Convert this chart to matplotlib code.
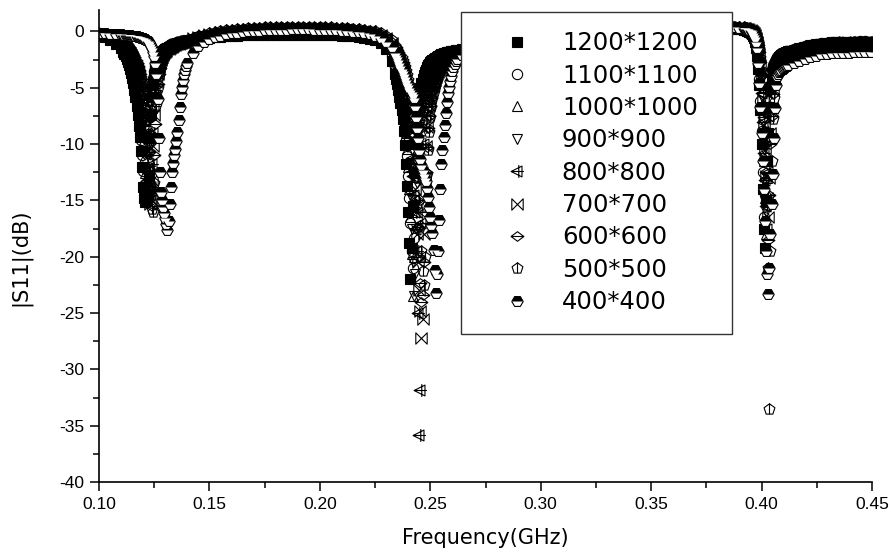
import numpy as np
import matplotlib
matplotlib.use("Agg")
import matplotlib.pyplot as plt
from matplotlib.path import Path
from matplotlib import font_manager as fm

plt.rcParams['axes.unicode_minus'] = False

# ---------------- data: sweep frequencies (GHz), in segments ----------------
FA = [0.100, 0.1025, 0.105, 0.1075, 0.110]
FB = list(np.round(np.arange(0.111, 0.14025, 0.0005), 4))      # dip 1 (59)
FC = list(np.round(np.arange(0.1425, 0.2326, 0.0025), 4))      # 37
FD = list(np.round(np.arange(0.234, 0.26225, 0.0005), 4))      # dip 2 (57)
FE = [0.2645, 0.267] + list(np.round(np.arange(0.270, 0.3851, 0.005), 4)) + [0.3875, 0.390]  # 28
FF = list(np.round(np.arange(0.392, 0.41225, 0.0005), 4))      # dip 3 (41)
FG = list(np.round(np.arange(0.4145, 0.4496, 0.0025), 4))      # 15
SEGS = [FA, FB, FC, FD, FE, FF, FG]
freq = np.array(FA + FB + FC + FD + FE + FF + FG)

labels = ["1200*1200", "1100*1100", "1000*1000", "900*900", "800*800",
          "700*700", "600*600", "500*500", "400*400"]

# ---------------- |S11| (dB) per patch size, one list per frequency segment ----------------
s1200 = [
    [-0.35, -0.5, -0.75, -1.1, -1.5],
    [-1.8, -2.0, -2.2, -2.45, -2.7, -3.0, -3.3, -3.7, -4.1, -4.6, -5.2, -5.85, -6.6, -7.45, -8.4, -9.4, -10.6, -12.0, -13.8, -14.8,
     -15.1, -15.0, -14.6, -12.8, -9.5, -7.4, -5.8, -4.8, -4.0, -3.45, -3.0, -2.65, -2.4, -2.2, -2.0, -1.85, -1.75, -1.68, -1.6, -1.52,
     -1.45, -1.4, -1.35, -1.3, -1.25, -1.2, -1.15, -1.12, -1.1, -1.08, -1.05, -1.02, -1.0, -0.98, -0.95, -0.92, -0.9, -0.88, -0.85],
    [-0.8, -0.72, -0.65, -0.58, -0.52, -0.47, -0.43, -0.4, -0.37, -0.35, -0.33, -0.32, -0.31, -0.3, -0.3, -0.3, -0.3, -0.3, -0.3, -0.3,
     -0.3, -0.3, -0.3, -0.3, -0.31, -0.32, -0.34, -0.37, -0.4, -0.44, -0.5, -0.57, -0.65, -0.75, -1.0, -1.55, -2.6],
    [-3.8, -4.25, -4.7, -5.2, -5.8, -6.4, -7.0, -7.8, -8.8, -10.1, -11.8, -13.7, -16.0, -18.8, -22.0, -19.2, -15.5, -12.5, -10.0, -8.4,
     -7.2, -6.3, -5.6, -5.05, -4.6, -4.22, -3.9, -3.63, -3.4, -3.18, -3.0, -2.87, -2.75, -2.65, -2.55, -2.47, -2.4, -2.32, -2.25, -2.2,
     -2.15, -2.1, -2.05, -2.0, -1.95, -1.92, -1.9, -1.87, -1.85, -1.82, -1.8, -1.77, -1.75, -1.72, -1.7, -1.67, -1.65],
    [-1.6, -1.5, -1.35, -1.15, -0.95, -0.8, -0.65, -0.5, -0.4, -0.3, -0.2, -0.12, -0.05, 0.0, 0.05, 0.08, 0.1, 0.12, 0.14, 0.15,
     0.17, 0.18, 0.19, 0.2, 0.2, 0.2, 0.2, 0.18],
    [0.15, 0.12, 0.1, 0.05, 0.0, -0.07, -0.15, -0.27, -0.4, -0.6, -0.9, -1.45, -2.2, -3.3, -4.8, -7.0, -10.0, -14.0, -17.5, -19.2,
     -15.0, -11.5, -9.0, -6.7, -5.0, -4.2, -3.6, -3.27, -3.0, -2.78, -2.6, -2.47, -2.35, -2.27, -2.2, -2.12, -2.05, -2.0, -1.95, -1.9,
     -1.85],
    [-1.7, -1.55, -1.4, -1.3, -1.2, -1.1, -1.05, -1.0, -0.95, -1.0, -1.0, -0.95, -0.9, -0.9, -0.95],
]

s1100 = [
    [-0.3, -0.45, -0.7, -1.0, -1.4],
    [-1.6, -1.75, -1.9, -2.1, -2.3, -2.55, -2.8, -3.1, -3.5, -3.9, -4.4, -5.0, -5.6, -6.4, -7.3, -8.4, -9.6, -11.0, -12.4, -13.6,
     -14.2, -13.5, -12.0, -9.8, -7.6, -6.1, -4.9, -4.1, -3.5, -3.05, -2.7, -2.42, -2.2, -2.04, -1.9, -1.77, -1.65, -1.57, -1.5, -1.45,
     -1.4, -1.35, -1.3, -1.25, -1.2, -1.15, -1.1, -1.07, -1.05, -1.02, -1.0, -0.97, -0.95, -0.92, -0.9, -0.87, -0.85, -0.82, -0.8],
    [-0.7, -0.58, -0.47, -0.37, -0.29, -0.21, -0.15, -0.1, -0.05, 0.0, 0.02, 0.05, 0.07, 0.1, 0.1, 0.12, 0.12, 0.13, 0.13, 0.13,
     0.13, 0.13, 0.12, 0.12, 0.1, 0.1, 0.08, 0.05, 0.02, -0.02, -0.08, -0.15, -0.25, -0.4, -0.7, -1.25, -2.2],
    [-3.2, -3.6, -4.0, -4.45, -4.9, -5.42, -6.0, -6.65, -7.4, -8.4, -9.6, -11.1, -12.8, -14.8, -17.0, -19.5, -21.0, -18.3, -15.0, -12.3,
     -10.0, -8.5, -7.3, -6.4, -5.7, -5.15, -4.7, -4.33, -4.0, -3.73, -3.5, -3.28, -3.1, -2.95, -2.8, -2.7, -2.6, -2.5, -2.4, -2.32,
     -2.25, -2.2, -2.15, -2.1, -2.05, -2.0, -1.95, -1.92, -1.9, -1.87, -1.85, -1.82, -1.8, -1.77, -1.75, -1.72, -1.7],
    [-1.62, -1.5, -1.3, -1.1, -0.9, -0.72, -0.58, -0.45, -0.33, -0.23, -0.14, -0.06, 0.0, 0.05, 0.1, 0.13, 0.16, 0.18, 0.2, 0.22,
     0.23, 0.25, 0.26, 0.27, 0.27, 0.27, 0.26, 0.24],
    [0.2, 0.18, 0.15, 0.1, 0.05, -0.02, -0.1, -0.2, -0.3, -0.48, -0.75, -1.2, -1.9, -2.9, -4.2, -6.2, -8.8, -12.5, -16.5, -14.5,
     -9.5, -6.9, -5.2, -4.35, -3.7, -3.32, -3.0, -2.78, -2.6, -2.44, -2.3, -2.2, -2.1, -2.02, -1.95, -1.9, -1.85, -1.8, -1.75, -1.72,
     -1.7],
    [-1.6, -1.45, -1.32, -1.22, -1.12, -1.05, -1.0, -0.95, -0.92, -0.95, -0.95, -0.9, -0.88, -0.88, -0.9],
]

s1000 = [
    [-0.3, -0.4, -0.6, -0.9, -1.25],
    [-1.45, -1.57, -1.7, -1.85, -2.0, -2.2, -2.4, -2.63, -2.9, -3.22, -3.6, -4.03, -4.5, -5.1, -5.8, -6.6, -7.5, -8.6, -9.8, -11.2,
     -12.6, -13.8, -14.6, -13.6, -11.5, -8.9, -6.8, -5.4, -4.4, -3.75, -3.2, -2.82, -2.5, -2.28, -2.1, -1.94, -1.8, -1.7, -1.6, -1.52,
     -1.45, -1.4, -1.35, -1.3, -1.25, -1.2, -1.15, -1.12, -1.1, -1.05, -1.0, -0.97, -0.95, -0.92, -0.9, -0.87, -0.85, -0.82, -0.8],
    [-0.68, -0.55, -0.43, -0.32, -0.24, -0.16, -0.1, -0.05, 0.0, 0.05, 0.07, 0.1, 0.12, 0.15, 0.15, 0.17, 0.17, 0.18, 0.18, 0.18,
     0.18, 0.18, 0.17, 0.17, 0.15, 0.15, 0.13, 0.1, 0.07, 0.03, -0.03, -0.1, -0.2, -0.35, -0.62, -1.1, -2.0],
    [-3.0, -3.33, -3.7, -4.12, -4.6, -5.08, -5.6, -6.25, -7.0, -7.9, -9.0, -10.4, -12.0, -14.0, -16.5, -19.8, -23.5, -20.0, -16.0, -12.9,
     -10.5, -8.9, -7.6, -6.7, -5.9, -5.35, -4.9, -4.53, -4.2, -3.88, -3.6, -3.38, -3.2, -3.04, -2.9, -2.77, -2.65, -2.55, -2.45, -2.37,
     -2.3, -2.25, -2.2, -2.15, -2.1, -2.05, -2.0, -1.97, -1.95, -1.92, -1.9, -1.87, -1.85, -1.82, -1.8, -1.77, -1.75],
    [-1.65, -1.52, -1.32, -1.12, -0.92, -0.75, -0.6, -0.46, -0.34, -0.24, -0.15, -0.07, 0.0, 0.06, 0.11, 0.15, 0.18, 0.21, 0.23, 0.25,
     0.27, 0.28, 0.3, 0.31, 0.31, 0.31, 0.3, 0.28],
    [0.25, 0.22, 0.2, 0.15, 0.1, 0.05, 0.0, -0.1, -0.2, -0.35, -0.55, -0.85, -1.3, -2.0, -3.0, -4.5, -6.5, -8.8, -11.5, -14.8,
     -18.0, -13.0, -8.8, -6.6, -5.0, -4.2, -3.6, -3.22, -2.9, -2.68, -2.5, -2.36, -2.25, -2.15, -2.05, -1.97, -1.9, -1.85, -1.8, -1.75,
     -1.7],
    [-1.55, -1.4, -1.28, -1.18, -1.1, -1.02, -0.98, -0.92, -0.9, -0.92, -0.9, -0.86, -0.84, -0.86, -0.88],
]

s900 = [
    [-0.25, -0.4, -0.55, -0.85, -1.2],
    [-1.4, -1.52, -1.65, -1.8, -1.95, -2.15, -2.35, -2.6, -2.85, -3.15, -3.5, -3.93, -4.4, -4.95, -5.6, -6.35, -7.2, -8.3, -9.5, -10.9,
     -12.5, -14.0, -15.0, -14.3, -12.8, -9.9, -7.5, -5.9, -4.6, -3.85, -3.3, -2.92, -2.6, -2.33, -2.1, -1.94, -1.8, -1.7, -1.6, -1.52,
     -1.45, -1.4, -1.35, -1.3, -1.25, -1.2, -1.15, -1.12, -1.1, -1.05, -1.0, -0.97, -0.95, -0.92, -0.9, -0.87, -0.85, -0.82, -0.8],
    [-0.66, -0.52, -0.4, -0.28, -0.19, -0.11, -0.05, 0.0, 0.05, 0.1, 0.12, 0.15, 0.17, 0.2, 0.2, 0.22, 0.22, 0.23, 0.23, 0.23,
     0.23, 0.23, 0.22, 0.22, 0.2, 0.2, 0.18, 0.15, 0.12, 0.08, 0.03, -0.04, -0.13, -0.27, -0.5, -0.9, -1.65],
    [-2.5, -2.78, -3.1, -3.43, -3.8, -4.22, -4.7, -5.22, -5.8, -6.55, -7.4, -8.5, -9.8, -11.9, -14.5, -17.5, -20.5, -23.5, -21.5, -17.5,
     -13.5, -11.5, -9.6, -8.3, -7.2, -6.4, -5.7, -5.2, -4.8, -4.45, -4.1, -3.85, -3.6, -3.4, -3.2, -3.05, -2.9, -2.78, -2.67, -2.57,
     -2.48, -2.4, -2.32, -2.25, -2.2, -2.15, -2.1, -2.05, -2.0, -1.97, -1.95, -1.92, -1.9, -1.87, -1.85, -1.82, -1.8],
    [-1.7, -1.55, -1.35, -1.13, -0.93, -0.76, -0.6, -0.46, -0.34, -0.23, -0.13, -0.05, 0.02, 0.08, 0.13, 0.17, 0.21, 0.24, 0.26, 0.28,
     0.3, 0.32, 0.33, 0.34, 0.35, 0.35, 0.34, 0.32],
    [0.25, 0.22, 0.2, 0.18, 0.15, 0.1, 0.05, -0.05, -0.15, -0.3, -0.5, -0.8, -1.2, -1.85, -2.7, -4.0, -5.8, -8.0, -10.5, -13.5,
     -16.0, -13.0, -9.5, -7.1, -5.3, -4.4, -3.7, -3.32, -3.0, -2.76, -2.55, -2.42, -2.3, -2.2, -2.1, -2.02, -1.95, -1.9, -1.85, -1.8,
     -1.75],
    [-1.62, -1.48, -1.35, -1.25, -1.15, -1.08, -1.02, -0.98, -0.95, -0.97, -0.96, -0.92, -0.9, -0.9, -0.92],
]

s800 = [
    [-0.25, -0.35, -0.5, -0.75, -1.05],
    [-1.25, -1.35, -1.45, -1.57, -1.7, -1.85, -2.0, -2.2, -2.4, -2.63, -2.9, -3.2, -3.5, -3.92, -4.4, -4.95, -5.6, -6.4, -7.3, -8.4,
     -9.6, -10.9, -12.3, -13.7, -14.5, -13.8, -11.8, -9.0, -6.6, -5.2, -4.1, -3.5, -3.0, -2.68, -2.4, -2.18, -2.0, -1.87, -1.75, -1.65,
     -1.55, -1.47, -1.4, -1.35, -1.3, -1.25, -1.2, -1.15, -1.1, -1.07, -1.05, -1.02, -1.0, -0.97, -0.95, -0.92, -0.9, -0.87, -0.85],
    [-0.64, -0.5, -0.37, -0.25, -0.15, -0.07, 0.0, 0.05, 0.1, 0.15, 0.17, 0.2, 0.22, 0.25, 0.25, 0.27, 0.27, 0.28, 0.28, 0.28,
     0.28, 0.28, 0.27, 0.27, 0.25, 0.25, 0.23, 0.2, 0.17, 0.13, 0.08, 0.02, -0.06, -0.18, -0.38, -0.7, -1.3],
    [-2.0, -2.25, -2.5, -2.8, -3.1, -3.43, -3.8, -4.22, -4.7, -5.25, -5.9, -6.7, -7.6, -8.6, -9.8, -11.2, -12.8, -14.5, -16.0, -17.5,
     -19.5, -25.0, -35.8, -31.8, -17.0, -12.5, -10.0, -8.5, -7.4, -6.7, -6.1, -5.6, -5.2, -4.85, -4.5, -4.2, -3.95, -3.75, -3.55, -3.38,
     -3.22, -3.08, -2.95, -2.83, -2.72, -2.62, -2.53, -2.45, -2.38, -2.32, -2.26, -2.2, -2.15, -2.1, -2.05, -2.0, -1.95],
    [-1.8, -1.65, -1.45, -1.2, -0.98, -0.8, -0.64, -0.5, -0.37, -0.26, -0.16, -0.07, 0.0, 0.06, 0.12, 0.16, 0.2, 0.23, 0.26, 0.28,
     0.3, 0.32, 0.34, 0.35, 0.36, 0.36, 0.35, 0.33],
    [0.3, 0.28, 0.25, 0.2, 0.15, 0.1, 0.05, -0.02, -0.1, -0.25, -0.45, -0.7, -1.1, -1.7, -2.5, -3.7, -5.5, -8.0, -10.8, -13.2,
     -15.5, -17.5, -12.5, -7.5, -5.5, -4.5, -3.8, -3.38, -3.0, -2.78, -2.6, -2.47, -2.35, -2.25, -2.15, -2.07, -2.0, -1.95, -1.9, -1.85,
     -1.8],
    [-1.68, -1.52, -1.38, -1.28, -1.18, -1.1, -1.05, -1.0, -0.97, -1.0, -0.98, -0.94, -0.92, -0.92, -0.95],
]

s700 = [
    [-0.2, -0.3, -0.45, -0.7, -1.0],
    [-1.2, -1.3, -1.4, -1.52, -1.65, -1.8, -1.95, -2.12, -2.3, -2.55, -2.8, -3.08, -3.4, -3.78, -4.2, -4.72, -5.3, -6.05, -6.9, -7.95,
     -9.1, -10.5, -12.0, -13.8, -15.3, -14.9, -13.2, -10.2, -7.4, -5.7, -4.5, -3.8, -3.2, -2.83, -2.5, -2.28, -2.1, -1.94, -1.8, -1.7,
     -1.6, -1.52, -1.45, -1.4, -1.35, -1.3, -1.25, -1.2, -1.15, -1.12, -1.1, -1.05, -1.0, -0.97, -0.95, -0.92, -0.9, -0.87, -0.85],
    [-0.62, -0.48, -0.34, -0.22, -0.12, -0.03, 0.04, 0.1, 0.15, 0.2, 0.22, 0.25, 0.27, 0.3, 0.3, 0.32, 0.32, 0.33, 0.33, 0.33,
     0.33, 0.33, 0.32, 0.32, 0.3, 0.3, 0.28, 0.25, 0.22, 0.18, 0.13, 0.07, 0.0, -0.1, -0.28, -0.55, -1.05],
    [-1.7, -1.9, -2.1, -2.35, -2.6, -2.9, -3.2, -3.55, -3.9, -4.35, -4.8, -5.35, -6.0, -6.8, -7.7, -8.9, -10.2, -11.9, -14.0, -16.0,
     -18.0, -20.5, -23.0, -24.8, -27.2, -25.5, -18.0, -13.0, -10.2, -8.5, -7.4, -6.5, -5.9, -5.4, -4.95, -4.6, -4.3, -4.03, -3.8, -3.6,
     -3.42, -3.26, -3.12, -2.99, -2.87, -2.76, -2.66, -2.57, -2.49, -2.42, -2.35, -2.29, -2.23, -2.17, -2.12, -2.07, -2.02],
    [-1.85, -1.7, -1.5, -1.25, -1.02, -0.83, -0.66, -0.51, -0.38, -0.27, -0.17, -0.08, 0.0, 0.07, 0.13, 0.18, 0.22, 0.25, 0.28, 0.3,
     0.32, 0.34, 0.36, 0.37, 0.38, 0.38, 0.37, 0.35],
    [0.3, 0.28, 0.25, 0.22, 0.2, 0.15, 0.1, 0.03, -0.05, -0.17, -0.35, -0.58, -0.9, -1.4, -2.0, -3.0, -4.3, -6.1, -8.3, -10.5,
     -12.8, -14.8, -16.5, -13.0, -9.0, -6.8, -5.2, -4.35, -3.7, -3.32, -3.0, -2.78, -2.6, -2.47, -2.35, -2.27, -2.2, -2.12, -2.05, -2.0,
     -1.95],
    [-1.9, -1.85, -1.82, -1.8, -1.78, -1.76, -1.75, -1.75, -1.78, -1.75, -1.72, -1.7, -1.73, -1.7, -1.7],
]

s600 = [
    [-0.2, -0.3, -0.4, -0.6, -0.85],
    [-1.05, -1.12, -1.2, -1.3, -1.4, -1.52, -1.65, -1.8, -1.95, -2.12, -2.3, -2.53, -2.8, -3.08, -3.4, -3.78, -4.2, -4.72, -5.3, -6.05,
     -6.9, -7.95, -9.2, -10.7, -12.4, -14.2, -15.5, -14.0, -11.0, -8.2, -5.9, -4.7, -3.8, -3.25, -2.8, -2.48, -2.2, -2.04, -1.9, -1.77,
     -1.65, -1.57, -1.5, -1.42, -1.35, -1.3, -1.25, -1.2, -1.15, -1.12, -1.1, -1.05, -1.0, -0.97, -0.95, -0.92, -0.9, -0.87, -0.85],
    [-0.6, -0.46, -0.33, -0.21, -0.11, -0.03, 0.04, 0.1, 0.15, 0.19, 0.21, 0.24, 0.26, 0.28, 0.29, 0.3, 0.31, 0.31, 0.32, 0.32,
     0.32, 0.31, 0.31, 0.3, 0.29, 0.28, 0.26, 0.24, 0.21, 0.17, 0.12, 0.06, -0.01, -0.1, -0.26, -0.5, -0.95],
    [-1.6, -1.8, -2.0, -2.2, -2.4, -2.65, -2.9, -3.18, -3.5, -3.88, -4.3, -4.78, -5.3, -5.95, -6.7, -7.6, -8.6, -9.9, -11.3, -13.0,
     -15.0, -17.4, -20.0, -22.3, -24.0, -23.4, -20.5, -16.0, -12.5, -10.3, -8.6, -7.5, -6.6, -5.9, -5.3, -4.82, -4.4, -4.08, -3.8, -3.54,
     -3.3, -3.14, -3.0, -2.87, -2.75, -2.64, -2.55, -2.47, -2.4, -2.32, -2.25, -2.2, -2.15, -2.1, -2.05, -2.02, -2.0],
    [-1.9, -1.75, -1.55, -1.3, -1.06, -0.86, -0.68, -0.53, -0.4, -0.28, -0.18, -0.09, -0.01, 0.06, 0.12, 0.17, 0.21, 0.25, 0.28, 0.31,
     0.33, 0.35, 0.37, 0.38, 0.39, 0.39, 0.38, 0.36],
    [0.35, 0.32, 0.3, 0.25, 0.2, 0.15, 0.1, 0.03, -0.05, -0.15, -0.3, -0.5, -0.8, -1.25, -1.8, -2.7, -3.9, -5.5, -7.6, -10.0,
     -12.5, -15.5, -18.5, -14.5, -10.0, -7.5, -5.6, -4.65, -3.9, -3.45, -3.1, -2.85, -2.65, -2.52, -2.4, -2.3, -2.2, -2.12, -2.05, -2.0,
     -1.95],
    [-1.92, -1.88, -1.84, -1.82, -1.8, -1.8, -1.77, -1.76, -1.8, -1.77, -1.74, -1.72, -1.75, -1.72, -1.72],
]

s500 = [
    [-0.15, -0.25, -0.35, -0.55, -0.8],
    [-1.0, -1.07, -1.15, -1.25, -1.35, -1.47, -1.6, -1.75, -1.9, -2.07, -2.25, -2.46, -2.7, -2.98, -3.3, -3.68, -4.1, -4.62, -5.2, -5.95,
     -6.8, -7.85, -9.1, -10.7, -12.5, -14.5, -15.8, -16.0, -13.5, -9.5, -6.5, -5.0, -4.0, -3.4, -2.9, -2.58, -2.3, -2.1, -1.95, -1.82,
     -1.7, -1.6, -1.5, -1.42, -1.35, -1.3, -1.25, -1.2, -1.15, -1.12, -1.1, -1.05, -1.0, -0.97, -0.95, -0.92, -0.9, -0.87, -0.85],
    [-0.58, -0.43, -0.29, -0.17, -0.07, 0.02, 0.09, 0.15, 0.2, 0.25, 0.27, 0.3, 0.32, 0.35, 0.35, 0.37, 0.37, 0.38, 0.38, 0.38,
     0.38, 0.38, 0.37, 0.37, 0.35, 0.35, 0.33, 0.3, 0.27, 0.24, 0.2, 0.14, 0.08, 0.0, -0.15, -0.38, -0.8],
    [-1.3, -1.45, -1.6, -1.8, -2.0, -2.2, -2.4, -2.65, -2.9, -3.18, -3.5, -3.88, -4.3, -4.78, -5.3, -5.95, -6.7, -7.6, -8.6, -9.9,
     -11.3, -13.0, -15.0, -17.3, -19.5, -21.3, -22.5, -20.0, -15.5, -12.7, -10.5, -8.9, -7.6, -6.75, -6.0, -5.4, -4.9, -4.53, -4.2, -3.9,
     -3.6, -3.4, -3.2, -3.04, -2.9, -2.77, -2.65, -2.55, -2.45, -2.37, -2.3, -2.25, -2.2, -2.15, -2.1, -2.05, -2.0],
    [-1.9, -1.76, -1.56, -1.32, -1.08, -0.88, -0.7, -0.54, -0.41, -0.29, -0.19, -0.1, -0.02, 0.05, 0.11, 0.16, 0.21, 0.25, 0.29, 0.32,
     0.35, 0.37, 0.39, 0.41, 0.42, 0.42, 0.41, 0.39],
    [0.35, 0.33, 0.3, 0.28, 0.25, 0.2, 0.15, 0.08, 0.0, -0.1, -0.25, -0.45, -0.7, -1.1, -1.6, -2.4, -3.5, -5.0, -6.8, -9.0,
     -11.5, -15.5, -21.0, -33.5, -19.5, -11.5, -7.8, -5.9, -4.8, -4.1, -3.6, -3.25, -2.95, -2.75, -2.6, -2.47, -2.35, -2.27, -2.2, -2.12,
     -2.05],
    [-1.95, -1.9, -1.86, -1.84, -1.82, -1.82, -1.8, -1.78, -1.82, -1.8, -1.76, -1.74, -1.77, -1.74, -1.74],
]

s400 = [
    [-0.1, -0.15, -0.2, -0.2, -0.25],
    [-0.3, -0.3, -0.3, -0.32, -0.35, -0.35, -0.35, -0.38, -0.4, -0.4, -0.4, -0.42, -0.45, -0.47, -0.5, -0.52, -0.55, -0.57, -0.6, -0.65,
     -0.7, -0.77, -0.85, -0.95, -1.1, -1.28, -1.5, -1.8, -2.2, -2.8, -3.8, -6.0, -9.5, -12.5, -14.3, -15.0, -15.6, -16.1, -16.6, -17.1,
     -17.6, -16.8, -15.3, -13.8, -12.5, -11.7, -11.0, -10.4, -9.7, -8.9, -7.9, -6.7, -5.6, -4.9, -4.3, -3.8, -3.4, -3.1, -2.8],
    [-1.9, -1.3, -0.95, -0.7, -0.52, -0.38, -0.27, -0.18, -0.1, -0.04, 0.0, 0.04, 0.07, 0.1, 0.12, 0.14, 0.15, 0.16, 0.17, 0.17,
     0.17, 0.17, 0.16, 0.15, 0.14, 0.12, 0.1, 0.07, 0.03, -0.02, -0.08, -0.16, -0.26, -0.4, -0.6, -0.9, -1.35],
    [-1.9, -2.1, -2.3, -2.55, -2.8, -3.05, -3.3, -3.55, -3.8, -4.05, -4.3, -4.55, -4.8, -5.0, -5.2, -5.4, -5.6, -5.9, -6.6, -7.6,
     -8.6, -9.5, -10.5, -11.3, -11.9, -12.3, -12.7, -13.0, -13.3, -13.9, -14.7, -15.6, -16.5, -17.2, -17.9, -19.4, -21.2, -23.2, -21.5, -19.5,
     -16.7, -14.0, -11.8, -10.5, -9.4, -8.3, -7.2, -6.3, -5.5, -4.9, -4.4, -3.95, -3.55, -3.2, -2.9, -2.65, -2.45],
    [-2.1, -1.85, -1.6, -1.32, -1.08, -0.88, -0.7, -0.55, -0.42, -0.3, -0.2, -0.11, -0.03, 0.04, 0.1, 0.15, 0.19, 0.23, 0.26, 0.29,
     0.31, 0.33, 0.35, 0.36, 0.37, 0.37, 0.36, 0.34],
    [0.3, 0.28, 0.25, 0.22, 0.2, 0.15, 0.1, 0.02, -0.1, -0.28, -0.5, -0.9, -1.5, -2.8, -4.6, -6.7, -9.0, -11.5, -14.0, -16.8,
     -19.5, -21.5, -23.3, -21.0, -18.0, -15.3, -12.7, -9.5, -6.8, -4.8, -4.0, -3.75, -3.6, -3.5, -3.4, -3.32, -3.25, -3.17, -3.1, -3.05,
     -3.0],
    [-2.8, -2.6, -2.45, -2.3, -2.15, -2.05, -2.0, -1.95, -1.95, -1.9, -1.88, -1.85, -1.85, -1.83, -1.8],
]

series = [s1200, s1100, s1000, s900, s800, s700, s600, s500, s400]
values = []
for lab, s in zip(labels, series):
    for k, (seg, fseg) in enumerate(zip(s, SEGS)):
        assert len(seg) == len(fseg), (lab, k, len(seg), len(fseg))
    values.append(np.concatenate([np.asarray(seg, float) for seg in s]))

# ---------------- marker shapes ----------------
M, L, C = Path.MOVETO, Path.LINETO, Path.CLOSEPOLY
tri_plus = Path([(-1, 0), (0.7, 0.85), (0.7, -0.85), (-1, 0), (0.2, -1), (0.2, 1), (-1, 0), (1, 0)],
                [M, L, L, C, M, L, M, L])
bowtie = Path([(-1, -1), (1, 1), (1, -1), (-1, 1), (-1, -1)], [M, L, L, L, C])
dia_line = Path([(-1, 0), (0, 0.75), (1, 0), (0, -0.75), (-1, 0), (-1, 0), (1, 0)],
                [M, L, L, L, C, M, L])
pa = np.deg2rad(90 + 72 * np.arange(5))
pent_pts = [(np.cos(a), np.sin(a)) for a in pa]
pent_line = Path(pent_pts + [pent_pts[0], (0, 1), (0, -0.809)], [M, L, L, L, L, C, M, L])

styles = [
    dict(marker='s', mfc='k', ms=7.0),
    dict(marker='o', mfc='none', ms=7.4),
    dict(marker='^', mfc='none', ms=7.8),
    dict(marker='v', mfc='none', ms=7.8),
    dict(marker=tri_plus, mfc='none', ms=9.2),
    dict(marker=bowtie, mfc='none', ms=8.2),
    dict(marker=dia_line, mfc='none', ms=9.2),
    dict(marker=pent_line, mfc='none', ms=8.2),
    dict(marker='H', mfc='k', mfcalt='white', fillstyle='top', ms=8.2),
]

# ---------------- figure ----------------
fig = plt.figure(figsize=(8.93, 5.58), dpi=100)
ax = fig.add_axes([99 / 893, (558 - 482) / 558, (872 - 99) / 893, (482 - 10) / 558])

handles = []
for lab, v, st in zip(labels, values, styles):
    st = dict(st)
    ms = st.pop('ms')
    (h,) = ax.plot(freq, v, linestyle='none', mec='k', mew=0.8, markersize=ms, label=lab, **st)
    handles.append(h)

xt = [0.10, 0.15, 0.20, 0.25, 0.30, 0.35, 0.40, 0.45]
yt = [-40, -35, -30, -25, -20, -15, -10, -5, 0]
ax.set_xlim(0.10, 0.45)
ax.set_ylim(-40, 1.9)
ax.set_xticks(xt)
ax.set_xticks([0.125, 0.175, 0.225, 0.275, 0.325, 0.375, 0.425], minor=True)
ax.set_yticks(yt)
ax.set_yticks([-37.5, -32.5, -27.5, -22.5, -17.5, -12.5, -7.5, -2.5], minor=True)
ax.set_xticklabels([f"{v:.2f}" for v in xt])
ax.set_yticklabels([str(v) for v in yt])

for side in ('top', 'right'):
    ax.spines[side].set_visible(False)
for side in ('left', 'bottom'):
    ax.spines[side].set_linewidth(1.2)

names = {f.name for f in fm.fontManager.ttflist}
tick_font = 'Liberation Sans Narrow' if 'Liberation Sans Narrow' in names else 'Liberation Sans'

ax.tick_params(which='major', direction='out', length=6.5, width=1.1, pad=4)
ax.tick_params(which='minor', direction='out', length=4, width=1.1)
for t in ax.get_xticklabels() + ax.get_yticklabels():
    t.set_fontfamily(tick_font)
    t.set_fontsize(12.5)

ax.set_xlabel("Frequency(GHz)", fontsize=15, family='DejaVu Sans')
ax.set_ylabel("|S11|(dB)", fontsize=15, family='DejaVu Sans')
ax.xaxis.set_label_coords(0.5, -0.098)
ax.yaxis.set_label_coords(-0.087, 0.477)

leg = ax.legend(handles=handles, loc='upper left',
                bbox_to_anchor=((461 - 99) / 773, 0, (732 - 461) / 773, (482 - 11.7) / 472),
                mode='expand', frameon=True, fancybox=False, framealpha=1,
                edgecolor='#333333', borderpad=0.8, labelspacing=0.345,
                handlelength=3.0, handletextpad=0.35, numpoints=1, borderaxespad=0,
                prop={'family': 'DejaVu Sans', 'size': 17.5})
leg.get_frame().set_linewidth(1.0)

fig.savefig("out.png", dpi=100)
